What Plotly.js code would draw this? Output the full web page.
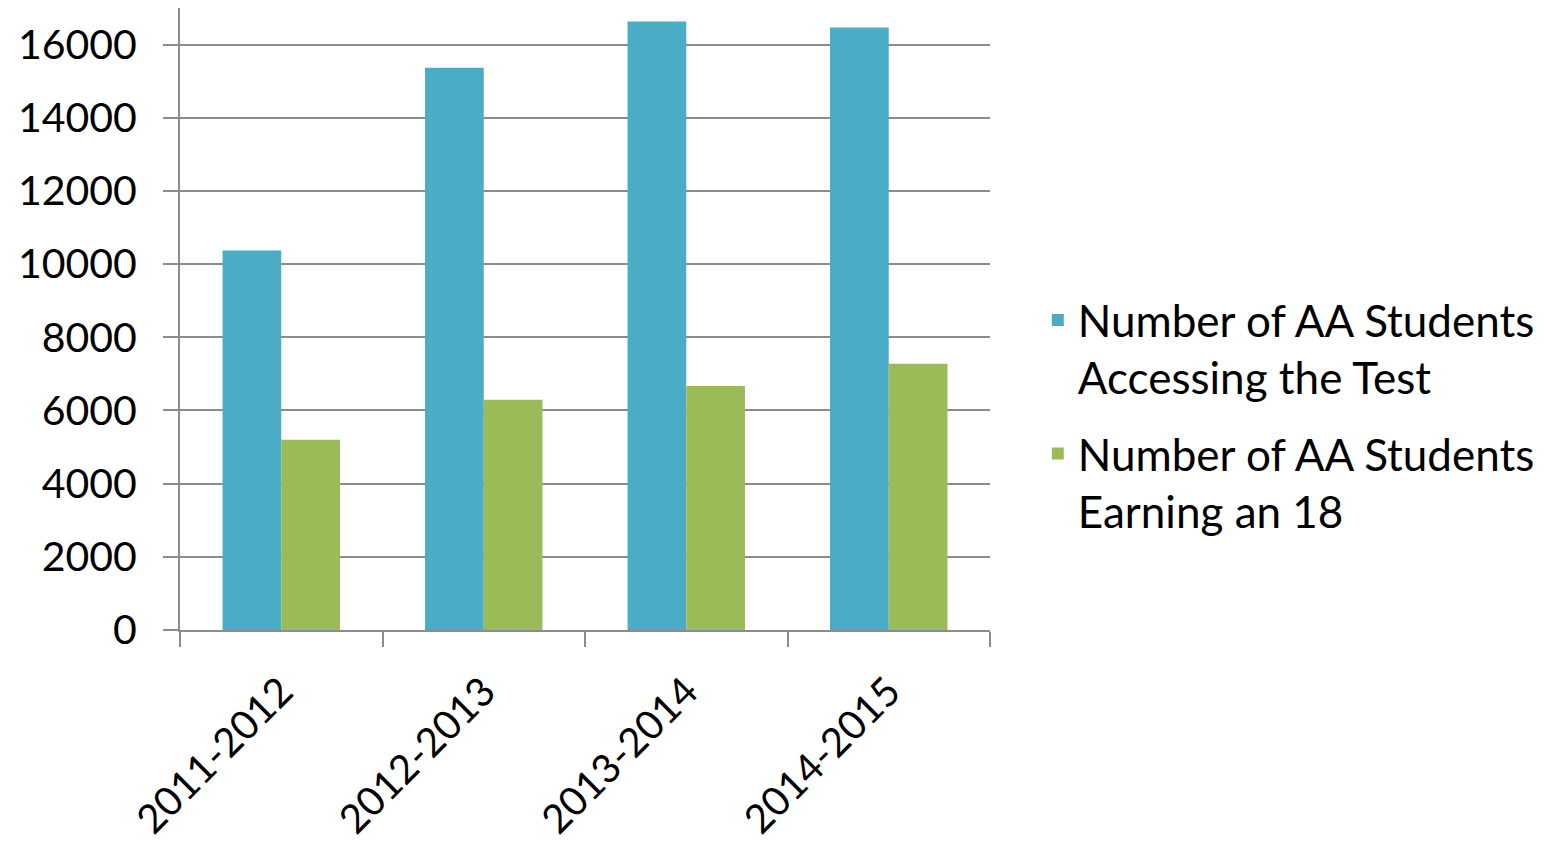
<!DOCTYPE html>
<html>
<head>
<meta charset="utf-8">
<script src="https://cdn.plot.ly/plotly-3.0.1.min.js"></script>
<style>html,body{margin:0;padding:0;background:#fff;}#chart{width:1549px;height:842px;}</style>
</head>
<body>
<div id="chart"></div>
<script>
var categories = ["2011-2012", "2012-2013", "2013-2014", "2014-2015"];
var accessing = [10370, 15370, 16630, 16470];
var earning18 = [5200, 6290, 6670, 7280];
var seriesNames = ["Number of AA Students<br>Accessing the Test", "Number of AA Students<br>Earning an 18"];
var yTicks = [0, 2000, 4000, 6000, 8000, 10000, 12000, 14000, 16000];

var font = "Lato, 'Liberation Sans', sans-serif";
var data = [
  {type: "bar", x: categories, y: accessing, name: seriesNames[0], legendgroup: "a", marker: {color: "#4BACC6"}},
  {type: "bar", x: categories, y: earning18, name: seriesNames[1], legendgroup: "b", marker: {color: "#9BBB59"}}
];
var layout = {
  width: 1549, height: 842,
  margin: {l: 180, r: 559, t: 8, b: 212},
  paper_bgcolor: "#fff", plot_bgcolor: "#fff",
  font: {family: font, size: 40, color: "#000"},
  barmode: "group", bargap: 0.42, bargroupgap: 0,
  showlegend: true,
  legend: {x: 1.059, xanchor: "left", y: 0.345, yanchor: "middle", font: {size: 44}, valign: "top",
           traceorder: "grouped", tracegroupgap: 16, itemwidth: 30},
  xaxis: {
    type: "category", tickangle: -45, showgrid: false, showline: true, linecolor: "#8c8c8c", linewidth: 2,
    ticks: "outside", tickson: "boundaries", ticklen: 15, tickwidth: 2, tickcolor: "#8c8c8c",
    tickfont: {size: 40}, zeroline: false, ticklabelstandoff: 20
  },
  yaxis: {
    range: [0, 17000], tickvals: yTicks, tickformat: "d", showgrid: true, gridcolor: "#8c8c8c", gridwidth: 2,
    showline: true, linecolor: "#8c8c8c", linewidth: 2, ticks: "outside", ticklen: 15, tickwidth: 2,
    tickcolor: "#8c8c8c", tickfont: {size: 41}, zeroline: false, ticklabelstandoff: 18
  }
};
Plotly.newPlot("chart", data, layout, {displayModeBar: false, staticPlot: true});
</script>
</body>
</html>
